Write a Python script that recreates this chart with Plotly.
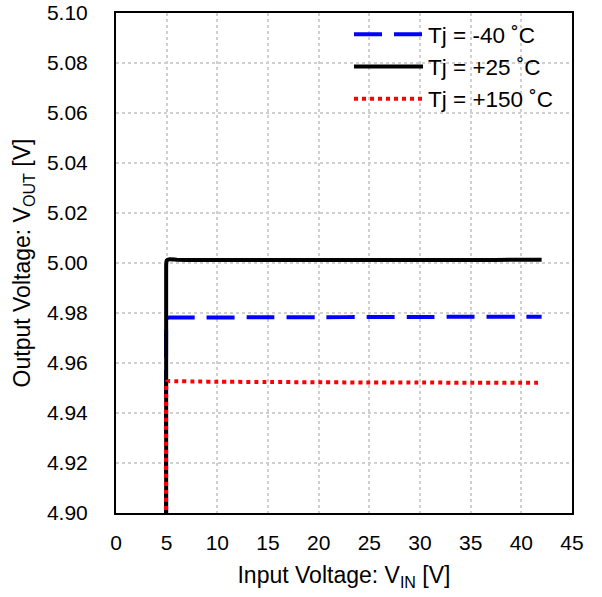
import plotly.graph_objects as go

# Data
vin = [4.95, 4.95, 5.0, 5.3, 6, 8, 10, 15, 20, 25, 30, 35, 40, 42]
vout_m40 = [4.85, 4.975, 4.978, 4.9782, 4.9782, 4.9782, 4.9782, 4.9783, 4.9783, 4.9784, 4.9784, 4.9785, 4.9785, 4.9785]
vout_p25 = [4.85, 4.999, 5.0010, 5.0015, 5.0013, 5.0012, 5.0012, 5.0012, 5.0012, 5.0012, 5.0012, 5.0012, 5.0013, 5.0013]
vout_p150 = [4.85, 4.950, 4.9525, 4.9528, 4.9527, 4.9526, 4.9525, 4.9524, 4.9523, 4.9522, 4.9522, 4.9521, 4.9521, 4.9521]

names = ["Tj = -40 ˚C", "Tj = +25 ˚C", "Tj = +150 ˚C"]
colors = ["#0000FF", "#000000", "#FF0000"]
dashes = ["28px,12px", "solid", "4px,4px"]

x_ticks = [0, 5, 10, 15, 20, 25, 30, 35, 40, 45]
y_ticks = [4.90, 4.92, 4.94, 4.96, 4.98, 5.00, 5.02, 5.04, 5.06, 5.08, 5.10]

fig = go.Figure()
for i, (y, n, c, d) in enumerate(zip([vout_m40, vout_p25, vout_p150], names, colors, dashes)):
    fig.add_trace(go.Scatter(x=vin, y=y, mode="lines", name=n, legendgroup=f"g{i}",
                             line=dict(color=c, width=4, dash=d, shape="spline", smoothing=0.3)))

fam = "Liberation Sans, Arial, sans-serif"
fig.update_layout(
    width=602, height=597,
    margin=dict(l=116, r=30, t=13, b=84),
    paper_bgcolor="white", plot_bgcolor="white",
    font=dict(family=fam, size=21, color="#000000"),
    showlegend=True,
    legend=dict(x=0.511, y=1.0, xanchor="left", yanchor="top",
                bgcolor="rgba(0,0,0,0)", font=dict(family=fam, size=22.5, color="#000000"),
                tracegroupgap=0, itemwidth=69),
)
fig.update_xaxes(range=[0, 45], tickvals=x_ticks, ticktext=[str(v) for v in x_ticks],
                 showgrid=True, gridcolor="#d0d0d0", griddash="dot", gridwidth=1.5,
                 showline=True, linecolor="black", linewidth=2, mirror=True,
                 ticks="", zeroline=False, automargin=False, ticklabelstandoff=10,
                 ticklabeloverflow="allow", tickfont=dict(size=21),
                 title=dict(text="Input Voltage: V<sub>IN</sub> [V]", standoff=14,
                            font=dict(size=23)))
fig.update_yaxes(range=[4.90, 5.10], tickvals=y_ticks, ticktext=[f"{v:.2f}" for v in y_ticks],
                 showgrid=True, gridcolor="#d0d0d0", griddash="dot", gridwidth=1.5,
                 showline=True, linecolor="black", linewidth=2, mirror=True,
                 ticks="", zeroline=False, automargin=False, ticklabelstandoff=22,
                 ticklabeloverflow="allow", tickfont=dict(size=21),
                 title=dict(text="Output Voltage: V<sub>OUT</sub> [V]", standoff=10,
                            font=dict(size=23)))

fig.write_html("out.html", config={"displayModeBar": False},
               post_script="document.body.style.margin='0';")
